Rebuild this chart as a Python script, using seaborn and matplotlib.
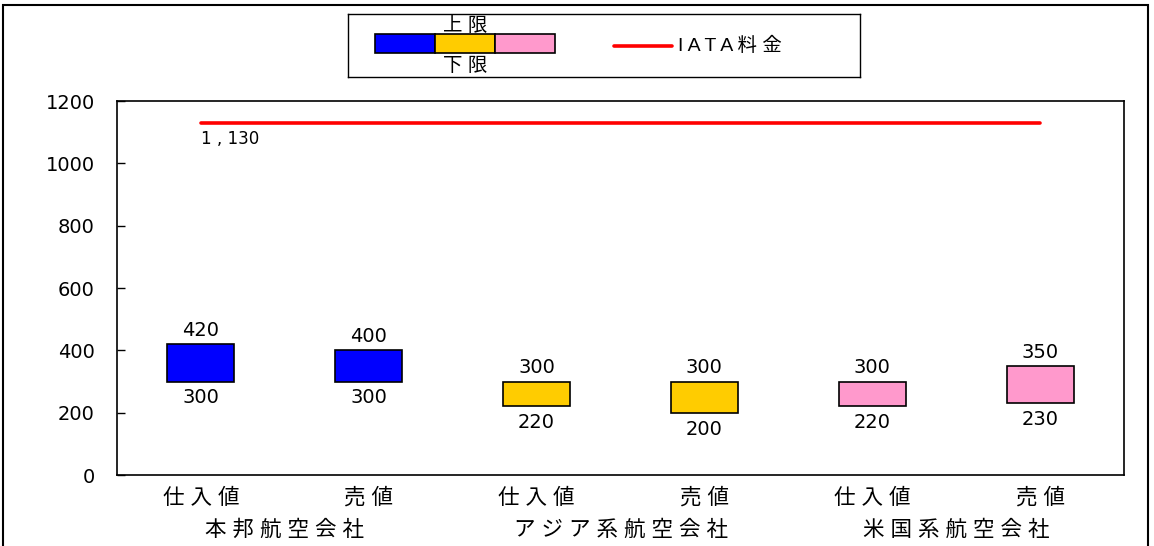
import pandas as pd
import matplotlib.pyplot as plt
import seaborn as sns
from matplotlib.patches import Rectangle
import matplotlib.transforms as mtransforms

# data
categories = ["仕入値", "売値", "仕入値", "売値", "仕入値", "売値"]
groups = ["本邦航空会社", "アジア系航空会社", "米国系航空会社"]
low = [300, 300, 220, 200, 220, 230]
high = [420, 400, 300, 300, 300, 350]
group_colors = ["#0000FF", "#FFCC00", "#FF99CC"]
iata = 1130
iata_label = "1,130"

sns.set_style("white")
plt.rcParams["font.family"] = ["DejaVu Sans", "Noto Sans CJK JP"]
plt.rcParams["text.color"] = "black"
plt.rcParams["xtick.color"] = "black"
plt.rcParams["ytick.color"] = "black"
plt.rcParams["axes.labelcolor"] = "black"
cjk = ["Liberation Sans", "Noto Sans CJK JP"]

df = pd.DataFrame({
    "key": [f"{groups[i // 2]}_{c}_{i}" for i, c in enumerate(categories)],
    "low": low,
    "high": high,
})
df["span"] = df["high"] - df["low"]

fig = plt.figure(figsize=(11.54, 5.46), dpi=100)
ax = fig.add_axes([0.1014, 0.130, 0.8726, 0.685])

sns.barplot(data=df, x="key", y="span", bottom=df["low"].values, width=0.4,
            color=group_colors[0], edgecolor="black", linewidth=1.2,
            errorbar=None, ax=ax)
for i, p in enumerate(ax.patches):
    p.set_facecolor(group_colors[i // 2])

# IATA line
ax.plot([0, len(categories) - 1], [iata, iata], color="#FF0000", lw=2.6,
        solid_capstyle="round")
ax.annotate(iata_label.replace(",", " , "), (0, iata), xytext=(0, -5),
            textcoords="offset points", ha="left", va="top", fontsize=12)

# value labels
for i in range(len(categories)):
    ax.annotate(str(high[i]), (i, high[i]), xytext=(0, 3), textcoords="offset points",
                ha="center", va="bottom", fontsize=14)
    ax.annotate(str(low[i]), (i, low[i]), xytext=(0, -5), textcoords="offset points",
                ha="center", va="top", fontsize=14)

ax.set_ylim(0, 1200)
ax.set_yticks(range(0, 1201, 200))
ax.set_xlim(-0.5, len(categories) - 0.5)
ax.set_xticks(range(len(categories)))
ax.set_xticklabels([" ".join(c) for c in categories], fontsize=15.5, family=cjk)
ax.set_xlabel("")
ax.set_ylabel("")
ax.tick_params(axis="y", direction="in", length=6, width=1, labelsize=14, pad=16, left=True)
ax.tick_params(axis="x", length=0, pad=9)
for s in ax.spines.values():
    s.set_color("black")
    s.set_linewidth(1.2)

trans = mtransforms.blended_transform_factory(ax.transData, ax.transAxes)
for g, name in enumerate(groups):
    ax.text(2 * g + 0.5, -0.147, " ".join(name), transform=trans, ha="center",
            va="center", fontsize=15.5, family=cjk)

# outer frame
fig.add_artist(Rectangle((3 / 1154, -0.05), 1145 / 1154, 1.0408, transform=fig.transFigure,
                         fill=False, edgecolor="black", linewidth=1.5))

# legend box
lax = fig.add_axes([0.3016, 0.859, 0.4437, 0.1154])
lax.set_xlim(0, 512)
lax.set_ylim(63, 0)
lax.set_xticks([])
lax.set_yticks([])
for s in lax.spines.values():
    s.set_color("black")
    s.set_linewidth(1)
for k, c in enumerate(group_colors):
    lax.add_patch(Rectangle((27 + 60 * k, 20), 60, 19, facecolor=c, edgecolor="black", lw=1.2))
lax.text(117, 12, "上 限", ha="center", va="center", fontsize=14, family=cjk)
lax.text(117, 52, "下 限", ha="center", va="center", fontsize=14, family=cjk)
lax.plot([266, 324], [32, 32], color="#FF0000", lw=2.6, solid_capstyle="round")
lax.text(330, 32, "I A T A 料 金", ha="left", va="center", fontsize=14, family=cjk)

fig.savefig("out.png", dpi=100)
